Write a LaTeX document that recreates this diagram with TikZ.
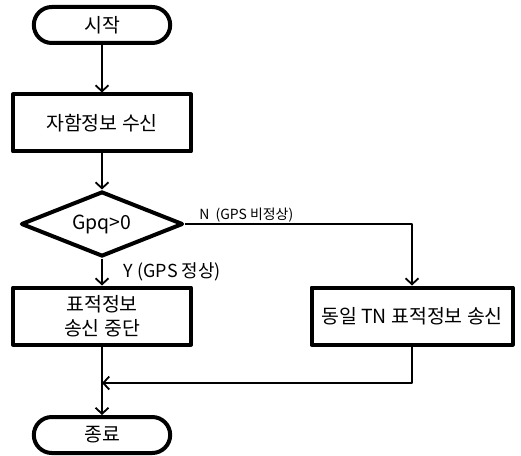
\documentclass[tikz,border=0pt]{standalone}
\usepackage{fontspec}
\setmainfont{Noto Sans CJK KR}
\usetikzlibrary{arrows.meta,shapes.geometric,shapes.misc}
\definecolor{chartfg}{HTML}{000000}

\begin{document}
\begin{tikzpicture}[color=chartfg, draw=chartfg, line join=round, x=1bp, y=-1bp,
  termbox/.style={rounded rectangle, draw, line width=4bp, minimum width=143bp, minimum height=36bp, font=\fontsize{19.5}{24}\selectfont},
  procbox/.style={rectangle, draw, line width=4bp, minimum width=178bp, minimum height=57bp, align=center, inner sep=2bp, font=\fontsize{19.5}{24}\selectfont},
  testbox/.style={diamond, draw, line width=4bp, aspect=2.4, minimum width=162bp, minimum height=65bp, inner sep=0pt, font=\fontsize{19.5}{24}\selectfont},
  flow/.style={line width=1.8bp, -{Straight Barb[length=6bp, width=13bp]}},
  tag/.style={inner sep=1bp}]
  \useasboundingbox (0,0) rectangle (521,456);
  \node[termbox] (start) at (102,25) {시작};
  \node[procbox] (recv) at (102,123) {자함정보 수신};
  \node[testbox] (gpq) at (102,224) {Gpq>0};
  \node[procbox] (stop) at (102,316) {표적정보\\송신 중단};
  \node[procbox, minimum width=201bp] (same) at (412,316) {동일 TN 표적정보 송신};
  \node[termbox] (end) at (102,435) {종료};
  \coordinate (merge) at (102,383);

  \draw[flow] (start) -- (recv);
  \draw[flow] (recv) -- (gpq);
  \draw[flow] (gpq) -- node[tag, anchor=west, xshift=20bp, font=\fontsize{18}{22}\selectfont] {Y (GPS 정상)} (stop);
  \draw[flow] (gpq.east) -| node[tag, pos=0.135, above, font=\fontsize{14}{17}\selectfont] {N~~(GPS 비정상)} (same);
  \draw[flow] (same.south) |- (merge);
  \draw[flow] (stop) -- (end);
\end{tikzpicture}
\end{document}
